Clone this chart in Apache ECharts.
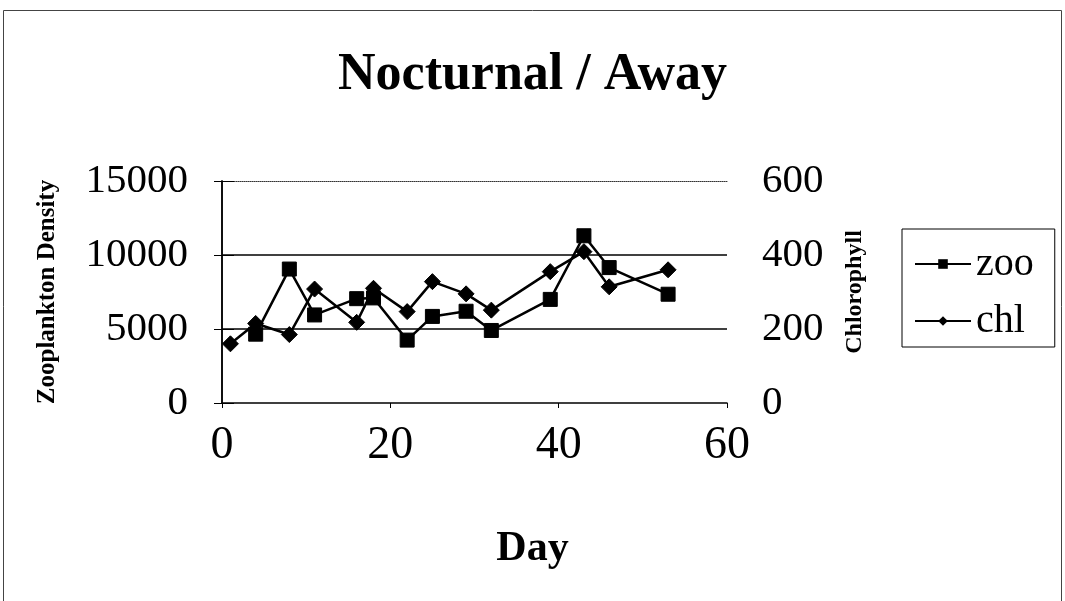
<!DOCTYPE html>
<html>
<head>
<meta charset="utf-8">
<script src="https://cdn.jsdelivr.net/npm/echarts@6/dist/echarts.min.js"></script>
<style>
html,body{margin:0;padding:0;background:#fff;}
#chart{width:1065px;height:601px;}
</style>
</head>
<body>
<div id="chart"></div>
<script>
// Data
var days = [1, 4, 8, 11, 16, 18, 22, 25, 29, 32, 39, 43, 46, 53];
var zoo  = [null, 4650, 9050, 5950, 7050, 7100, 4250, 5850, 6200, 4900, 7000, 11300, 9150, 7350];
var chl  = [160, 215, 185, 308, 218, 310, 247, 328, 295, 251, 355, 409, 314, 360];
var xTicks = [0, 20, 40, 60];
var leftTicks = [0, 5000, 10000, 15000];
var rightTicks = [0, 200, 400, 600];

var FONT = '"Liberation Serif", "Times New Roman", serif';

function pairs(xs, ys) {
  var out = [];
  for (var i = 0; i < xs.length; i++) {
    if (ys[i] !== null && ys[i] !== undefined) out.push([xs[i], ys[i]]);
  }
  return out;
}
function plain(v) { return String(v); }

var chart = echarts.init(document.getElementById('chart'), null, {renderer: 'canvas'});
var option = {
  backgroundColor: '#fff',
  animation: false,
  title: {
    text: 'Nocturnal / Away',
    left: 'center',
    top: 45,
    textStyle: {fontFamily: FONT, fontSize: 52, fontWeight: 'bold', color: '#000'}
  },
  graphic: [{
    type: 'rect',
    shape: {x: 3.5, y: 10.5, width: 1058, height: 600},
    style: {fill: 'none', stroke: '#444', lineWidth: 1}
  }],
  legend: {
    orient: 'vertical',
    left: 902,
    top: 229,
    padding: [15, 21, 6, 12],
    itemGap: 17,
    itemWidth: 56,
    itemHeight: 12,
    borderColor: '#000',
    borderWidth: 1,
    textStyle: {fontFamily: FONT, fontSize: 40, color: '#000'},
    data: ['zoo', 'chl']
  },
  grid: {left: 222, right: 338, top: 181, bottom: 198, containLabel: false},
  xAxis: [{
    type: 'value',
    min: xTicks[0], max: xTicks[xTicks.length - 1], interval: 20,
    name: 'Day',
    nameLocation: 'middle',
    nameGap: 125,
    nameTextStyle: {fontFamily: FONT, fontSize: 42, fontWeight: 'bold', color: '#000', padding: [0, 0, 0, 116]},
    axisLine: {show: true, onZero: false, lineStyle: {color: '#000', width: 1.5}},
    axisTick: {show: true, length: 5, lineStyle: {color: '#000'}},
    axisLabel: {fontFamily: FONT, fontSize: 46, color: '#000', margin: 20, formatter: plain},
    splitLine: {show: false}
  }, {
    type: 'value',
    position: 'top',
    min: 0, max: 60, interval: 20,
    axisLine: {show: true, onZero: false, lineStyle: {color: '#333', width: 1, type: 'dotted'}},
    axisTick: {show: false},
    axisLabel: {show: false},
    splitLine: {show: false}
  }],
  yAxis: [{
    type: 'value',
    position: 'left',
    min: 0, max: 15000, interval: 5000,
    name: 'Zooplankton Density',
    nameLocation: 'middle',
    nameGap: 162,
    nameRotate: 90,
    nameTextStyle: {fontFamily: FONT, fontSize: 25, fontWeight: 'bold', color: '#000'},
    axisLine: {show: true, lineStyle: {color: '#000', width: 1.5}},
    axisTick: {show: true, length: 8, lineStyle: {color: '#000'}},
    axisLabel: {fontFamily: FONT, fontSize: 41, color: '#000', margin: 34, formatter: plain},
    splitLine: {show: true, lineStyle: {color: ['transparent', '#000', '#000', 'transparent'], width: 1.5}}
  }, {
    type: 'value',
    position: 'right',
    min: 0, max: 600, interval: 200,
    name: 'Chlorophyll',
    nameLocation: 'middle',
    nameGap: 116,
    nameRotate: 90,
    nameTextStyle: {fontFamily: FONT, fontSize: 24, fontWeight: 'bold', color: '#000'},
    axisLine: {show: true, lineStyle: {color: '#000', width: 1.5}},
    axisTick: {show: true, length: 12, lineStyle: {color: '#000'}},
    axisLabel: {fontFamily: FONT, fontSize: 41, color: '#000', margin: 35, formatter: plain},
    splitLine: {show: false}
  }],
  series: [{
    name: 'zoo',
    type: 'line',
    xAxisIndex: 0,
    yAxisIndex: 0,
    data: pairs(days, zoo),
    symbol: 'rect',
    symbolSize: 14,
    lineStyle: {color: '#000', width: 2.5},
    itemStyle: {color: '#000', borderColor: '#000'},
    z: 3
  }, {
    name: 'chl',
    type: 'line',
    xAxisIndex: 0,
    yAxisIndex: 1,
    data: pairs(days, chl),
    symbol: 'diamond',
    symbolSize: 16,
    lineStyle: {color: '#000', width: 2.5},
    itemStyle: {color: '#000', borderColor: '#000'},
    z: 4
  }]
};
chart.setOption(option);
</script>
</body>
</html>
